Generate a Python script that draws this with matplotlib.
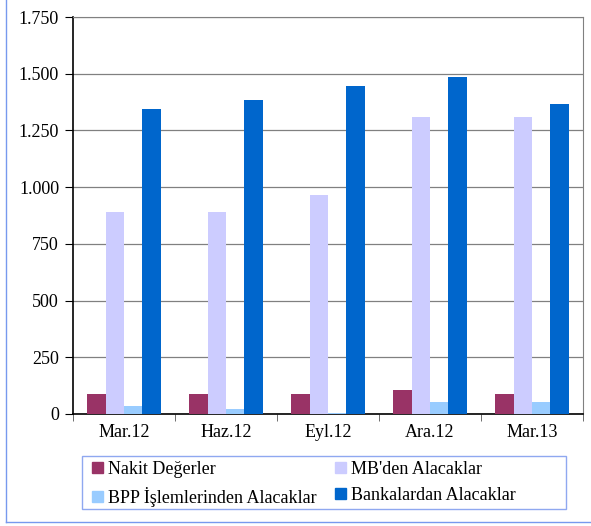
import matplotlib
matplotlib.use("Agg")
import matplotlib.pyplot as plt
from matplotlib.lines import Line2D
from matplotlib.patches import Rectangle
import numpy as np

plt.rcParams["font.family"] = ["Liberation Serif", "DejaVu Serif"]

periods = ["Mar.12", "Haz.12", "Eyl.12", "Ara.12", "Mar.13"]
series_names = ["Nakit Değerler", "MB'den Alacaklar",
                "BPP İşlemlerinden Alacaklar", "Bankalardan Alacaklar"]
nakit = [88, 88, 88, 106, 88]
mb = [890, 890, 965, 1309, 1309]
bpp = [35, 22, 4, 53, 53]
banka = [1344, 1384, 1446, 1485, 1366]
colors = ["#993366", "#ccccff", "#99ccff", "#0066cc"]
yticks = [0, 250, 500, 750, 1000, 1250, 1500, 1750]
ytick_labels = ["0", "250", "500", "750", "1.000", "1.250", "1.500", "1.750"]

W, H = 591, 526
fig = plt.figure(figsize=(W / 100, H / 100), dpi=100)
ax = fig.add_axes([73 / W, 1 - 414 / H, (583 - 73) / W, (414 - 17) / H])

x = np.arange(len(periods))
bw = 0.18
for i, (vals, c, name) in enumerate(zip([nakit, mb, bpp, banka], colors, series_names)):
    ax.bar(x + (i - 1.5) * bw, vals, bw, color=c, label=name, zorder=3)

ax.set_xlim(-0.5, len(periods) - 0.5)
ax.set_ylim(0, 1750)
ax.set_yticks(yticks)
ax.set_yticklabels(ytick_labels, fontsize=13)
ax.set_xticks(x)
ax.set_xticklabels(periods, fontsize=13)
ax.tick_params(axis="x", length=0, pad=7)
ax.set_xticks(np.arange(-0.5, len(periods)), minor=True)
ax.tick_params(axis="x", which="minor", length=5, color="#555555", direction="out")
ax.tick_params(axis="y", length=6, color="black", direction="out", pad=4)
ax.grid(axis="y", color="#808080", linewidth=0.9, zorder=0)
for s in ["top", "right"]:
    ax.spines[s].set_color("#808080")
for s in ["left", "bottom"]:
    ax.spines[s].set_color("black")
    ax.spines[s].set_linewidth(1.2)

# legend is filled row by row in the reference
order = [0, 2, 1, 3]
handles = [plt.Rectangle((0, 0), 1, 1, color=colors[i]) for i in order]
labels = [series_names[i] for i in order]
leg = fig.legend(handles, labels, loc="center left",
                 bbox_to_anchor=(92 / W, 1 - 484 / H),
                 ncol=2, fontsize=13, frameon=False,
                 handlelength=0.6, handleheight=0.6, handletextpad=0.3,
                 borderpad=0, labelspacing=0.5, columnspacing=1.0, borderaxespad=0)
fig.add_artist(Rectangle((82 / W, 1 - 509 / H), (566 - 82) / W, (509 - 456) / H,
                         transform=fig.transFigure, fill=False,
                         edgecolor="#8fa8f0", linewidth=1.0))

# outer frame
fc = "#7799ee"
fig.add_artist(Line2D([6 / W, 6 / W], [1 - 522 / H, 1], color=fc, lw=1.0))
fig.add_artist(Line2D([6 / W, 1], [1 - 522 / H, 1 - 522 / H], color=fc, lw=1.0))

fig.savefig("out.png", dpi=100)
